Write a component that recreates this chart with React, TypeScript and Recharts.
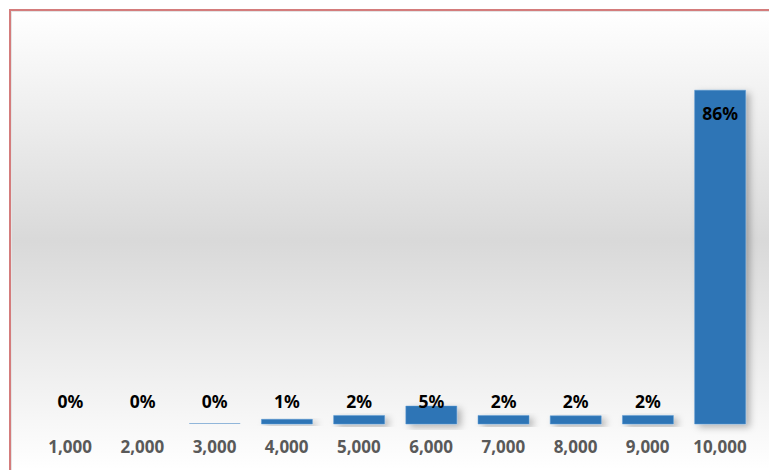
import React from "react";
import { BarChart, Bar, XAxis, YAxis, LabelList, Rectangle } from "recharts";

const categories = ["1,000", "2,000", "3,000", "4,000", "5,000", "6,000", "7,000", "8,000", "9,000", "10,000"];
// 1,000 and 2,000 are near zero (no visible bar, label reads 0%)
const shares = [0.02, 0.02, 0.2, 1.2, 2.2, 4.6, 2.2, 2.1, 2.2, 85.6];

const data = categories.map((name, i) => ({ name, share: shares[i] }));

const FONT = "'Noto Sans', 'Open Sans', sans-serif";

// small bars get their label above the axis, the tall one gets it inside the top
const ShareLabel = (props: any) => {
  const { x, y, width, height, value } = props;
  const cx = x + width / 2;
  const ty = height > 40 ? y + 23 : y + height - 23;
  return (
    <text
      x={cx}
      y={ty}
      textAnchor="middle"
      dominantBaseline="central"
      fill="#000"
      fontFamily={FONT}
      fontWeight={700}
      fontSize={17.5}
    >
      {`${Math.round(value)}%`}
    </text>
  );
};

// sub-pixel bars are not drawn at all
const ShareBar = (props: any) => {
  if (props.height < 0.5) return <g />;
  const thin = props.height < 2;
  return (
    <Rectangle
      {...props}
      fill={thin ? "#6fa0d0" : "#2e75b6"}
      stroke={thin ? "none" : "#5b9bd5"}
      strokeWidth={0.5}
      style={{ filter: thin ? undefined : "url(#barShadow)" }}
    />
  );
};

export default function App() {
  return (
    <div
      style={{
        position: "fixed",
        left: 9,
        top: 9,
        right: 0,
        bottom: 0,
        borderTop: "2px solid #d47c7c",
        borderLeft: "2px solid #d47c7c",
        overflow: "hidden",
      }}
    >
      <div
        style={{
          width: 758,
          height: 459,
          boxSizing: "border-box",
          borderTop: "1px solid #e4e4e4",
          borderLeft: "1px solid #e4e4e4",
          background: "linear-gradient(to bottom, #ffffff 0%, #d9d9d9 50%, #ffffff 100%)",
        }}
      >
        <BarChart
          width={757}
          height={458}
          data={data}
          margin={{ top: 22, right: 13, left: 22, bottom: 0 }}
          barCategoryGap="15%"
        >
          <defs>
            <filter id="barShadow" x="-20%" y="-20%" width="160%" height="150%">
              <feDropShadow dx="4" dy="3" stdDeviation="3.5" floodColor="#000" floodOpacity="0.28" />
            </filter>
          </defs>
          <XAxis
            dataKey="name"
            axisLine={false}
            tickLine={false}
            tickSize={0}
            tickMargin={17}
            height={46}
            interval={0}
            tick={{ fill: "#595959", fontFamily: FONT, fontWeight: 700, fontSize: 17 }}
          />
          <YAxis hide domain={[0, 100]} />
          <Bar dataKey="share" fill="#2e75b6" isAnimationActive={false} shape={<ShareBar />}>
            <LabelList dataKey="share" content={<ShareLabel />} />
          </Bar>
        </BarChart>
      </div>
    </div>
  );
}
